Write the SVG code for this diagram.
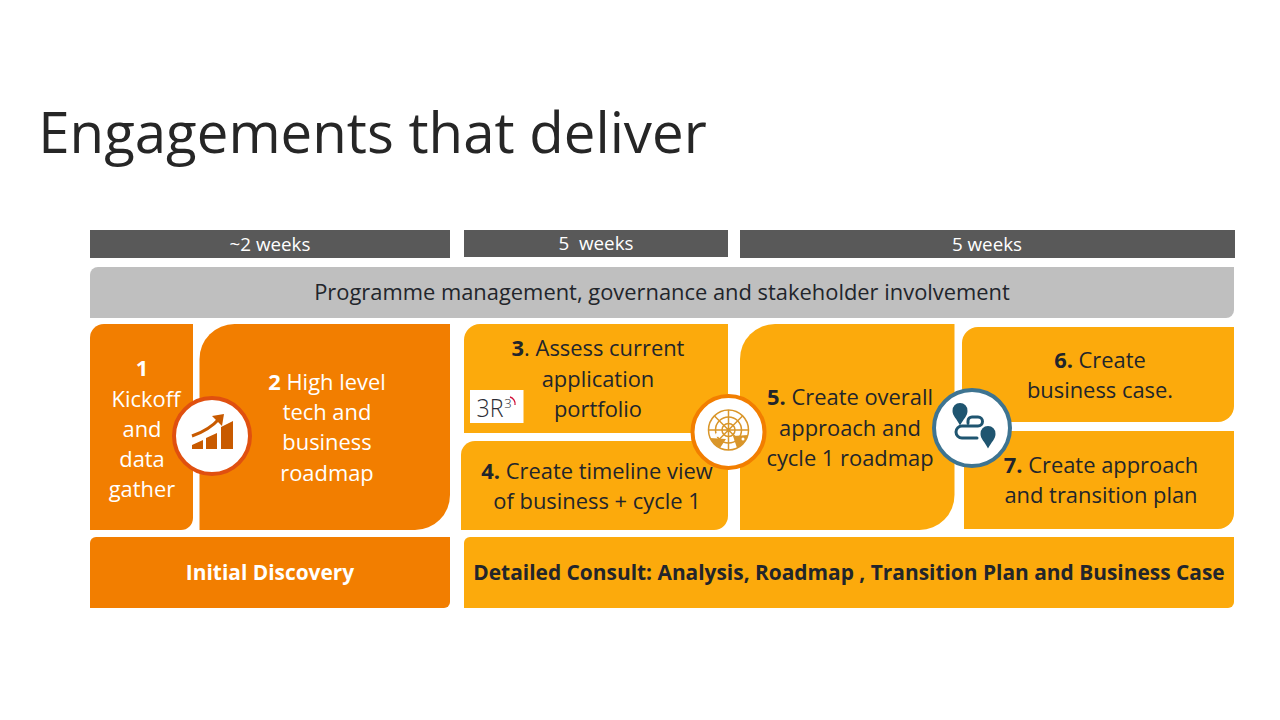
<svg xmlns="http://www.w3.org/2000/svg" width="1280" height="720" viewBox="0 0 1280 720">
<style>
text{font-family:"Open Sans","Noto Sans","DejaVu Sans",sans-serif;text-anchor:middle}
.t{font-size:21.9px;fill:#22252b}
.w{font-size:21.9px;fill:#fff}
.h{font-size:18.8px;fill:#fff}
.b{font-weight:700}
.o{fill:#F27E00}
.y{fill:#FCAA0C}
.d{fill:#595959}
.c{fill:#fff;stroke-width:4px}
</style>
<rect width="1280" height="720" fill="#fff"/>
<text x="372.500" y="153" style="font-size:56.400px;fill:#262626">Engagements that deliver</text>
<g id="header-1"><rect class="d" x="90" y="230" width="360" height="28"/><text class="h" x="270" y="251">~2 weeks</text></g>
<g id="header-2"><rect class="d" x="464" y="230" width="264" height="27"/><text class="h" x="596" y="250" xml:space="preserve">5  weeks</text></g>
<g id="header-3"><rect class="d" x="740" y="230" width="495" height="28"/><text class="h" x="987" y="251">5 weeks</text></g>
<g id="programme"><path d="M98 267H1234V310a8 8 0 0 1-8 8H90V275a8 8 0 0 1 8-8z" fill="#BFBFBF"/><text x="662" y="300" class="t">Programme management, governance and stakeholder involvement</text></g>
<g id="step-1"><path class="o" d="M104 324H193V518a12 12 0 0 1-12 12H90V338a14 14 0 0 1 14-14z"/>
<text class="w" x="142" y="376"><tspan class="b">1</tspan></text><text class="w" x="146" y="407">Kickoff</text><text class="w" x="142" y="437">and</text><text class="w" x="142" y="467">data</text><text class="w" x="142" y="497">gather</text></g>
<g id="step-2"><path class="o" d="M234.500 324H450V495a35 35 0 0 1-35 35H199.500V359a35 35 0 0 1 35-35z"/>
<text class="w" x="327" y="390"><tspan class="b">2</tspan> High level</text><text class="w" x="327" y="420">tech and</text><text class="w" x="327" y="450">business</text><text class="w" x="327" y="481">roadmap</text></g>
<g id="step-3"><path class="y" d="M480 324H728V433H464V340a16 16 0 0 1 16-16z"/>
<text class="t" x="598" y="356"><tspan class="b">3</tspan>. Assess current</text><text class="t" x="598" y="387">application</text><text class="t" x="598" y="417">portfolio</text>
<rect x="470" y="390" width="53.500" height="33" fill="#fff"/>
<text x="490" y="416.500" textLength="27" lengthAdjust="spacingAndGlyphs" style="font-size:25px;font-weight:300;fill:#2b2b33">3R</text><text x="508" y="408" style="font-size:13px;font-weight:300;fill:#2b2b33">3</text>
<path d="M510 397a7 7 0 0 1 5 8" fill="none" stroke="#D0103A" stroke-width="1.300"/></g>
<g id="step-4"><path class="y" d="M475 441H728V516a14 14 0 0 1-14 14H461V455a14 14 0 0 1 14-14z"/>
<text class="t" x="597" y="479"><tspan class="b">4.</tspan> Create timeline view</text><text class="t" x="597" y="509">of business + cycle 1</text></g>
<g id="step-5"><path class="y" d="M775 324H954.500V495a35 35 0 0 1-35 35H740V359a35 35 0 0 1 35-35z"/>
<text class="t" x="850" y="405"><tspan class="b">5.</tspan> Create overall</text><text class="t" x="850" y="436">approach and</text><text class="t" x="850" y="466">cycle 1 roadmap</text></g>
<g id="step-6"><path class="y" d="M978 327H1234V406a16 16 0 0 1-16 16H962V343a16 16 0 0 1 16-16z"/>
<text class="t" x="1100" y="368"><tspan class="b">6.</tspan> Create</text><text class="t" x="1100" y="398">business case.</text></g>
<g id="step-7"><path class="y" d="M964 431H1234V513a16 16 0 0 1-16 16H964z"/>
<text class="t" x="1101" y="473"><tspan class="b">7.</tspan> Create approach</text><text class="t" x="1101" y="503">and transition plan</text></g>
<g id="phase-1"><path class="o" d="M96 537H450V602a6 6 0 0 1-6 6H90V543a6 6 0 0 1 6-6z"/><text x="270" y="580" class="b" style="font-size:20.900px;fill:#fff">Initial Discovery</text></g>
<g id="phase-2"><path class="y" d="M470 537H1234V602a6 6 0 0 1-6 6H464V543a6 6 0 0 1 6-6z"/><text x="849" y="580" class="b" style="font-size:20.900px;fill:#22252b">Detailed Consult: Analysis, Roadmap , Transition Plan and Business Case</text></g>
<g id="icon-chart"><circle class="c" cx="212" cy="436" r="38" stroke="#E0500F"/>
<path d="M192 449V445l11-5V449zM206 449V438l11-5V449zM221 449V427l12-6V449z" fill="#C85A00"/>
<path d="M192 436C204 432 212 427 220 418" fill="none" stroke="#C85A00" stroke-width="3"/><path d="M212 416l12-2-2 12z" fill="#C85A00"/></g>
<g id="icon-radar"><circle class="c" cx="728.500" cy="432" r="36" stroke="#F27E00"/>
<g fill="none" stroke="#D9962A" stroke-width="1.500"><circle cx="728.500" cy="430" r="20"/><circle cx="728.500" cy="430" r="13"/><circle cx="728.500" cy="430" r="6.500"/><path d="M708.500 430H748.500M728.500 410V450M714.500 416L742.500 444M742.500 416L714.500 444"/></g>
<path d="M710 438a20 20 0 0 0 10 10l6-9zM733 436l15-1a20 20 0 0 1-11 13z" fill="#D9962A"/><circle cx="717" cy="435" r="2" fill="#fff"/><circle cx="743" cy="439" r="1.500" fill="#fff"/></g>
<g id="icon-route"><circle class="c" cx="972" cy="428" r="38" stroke="#3E7491"/>
<path d="M960 403a7.500 7.500 0 0 1 7.500 8c0 5-4 8-7.500 14.500c-3-6.500-7.500-9.500-7.500-14.500a7.500 7.500 0 0 1 7.500-8zM988 426a7.500 7.500 0 0 1 7.500 8c0 5-4 8-7.500 14.500c-3-6.500-7.500-9.500-7.500-14.500a7.500 7.500 0 0 1 7.500-8z" fill="#1F5570"/>
<path d="M968 423v-2a4 4 0 0 1 4-4h6a4.500 4.500 0 0 1 0 9H962a6 6 0 0 0 0 12H977" fill="none" stroke="#1F5570" stroke-width="3" stroke-linecap="round"/></g>
</svg>
